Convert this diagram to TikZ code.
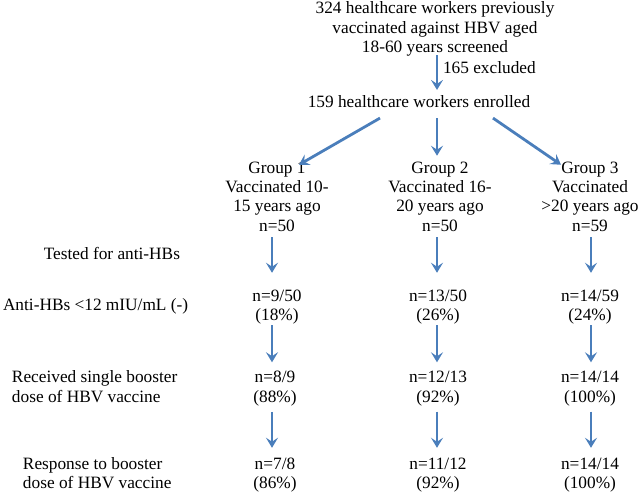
\documentclass[tikz,border=0pt]{standalone}
\usepackage{fontspec}
\setmainfont{Liberation Serif}
\usetikzlibrary{arrows.meta}
\definecolor{arrblue}{HTML}{4A7EBB}
\tikzset{
  txt/.style={inner sep=0pt, outer sep=0pt, align=center, font=\fontsize{17.3}{19.3}\selectfont},
  lbl/.style={txt, align=right, anchor=east},
  lbll/.style={txt, align=left, anchor=west},
  arr/.style={draw=arrblue, line width=2.8pt, -{Stealth[length=10pt,width=12pt,inset=4pt]}},
}
\begin{document}
\begin{tikzpicture}[x=1pt,y=-1pt]
\useasboundingbox (0,0) rectangle (640,493);
% column axes for the vertical arrows
\coordinate (col0) at (437,0);
\coordinate (col1) at (272,0);
\coordinate (col2) at (437,0);
\coordinate (col3) at (591,0);
% top
\node[txt] (top) at (435,29) {324 healthcare workers previously\\vaccinated against HBV aged\\18-60 years screened};
\node[txt, anchor=west] (excl) at (443,68) {165 excluded};
\node[txt] (enr) at (419,102) {159 healthcare workers enrolled};
% groups
\node[txt] (g1) at (277,196.5) {Group 1\\Vaccinated 10-\\15 years ago\\n=50};
\node[txt] (g2) at (440,196.5) {Group 2\\Vaccinated 16-\\20 years ago\\n=50};
\node[txt] (g3) at (590,196.5) {Group 3\\Vaccinated\\>20 years ago\\n=59};
% row labels
\node[lbl] (ltest) at (180,253) {Tested for anti-HBs};
\node[txt, anchor=west] (lanti) at (3,306) {Anti-HBs <12 mIU/mL (-)};
\node[lbll] (lrec) at (12,386.5) {Received single booster\\dose of HBV vaccine};
\node[lbll] (lresp) at (23,473) {Response to booster\\dose of HBV vaccine};
% rows
\node[txt] (a1) at (277,307) {n=9/50\\(18\%)};
\node[txt] (a2) at (438,307) {n=13/50\\(26\%)};
\node[txt] (a3) at (590,307) {n=14/59\\(24\%)};
\node[txt] (b1) at (275,388.5) {n=8/9\\(88\%)};
\node[txt] (b2) at (438,388.5) {n=12/13\\(92\%)};
\node[txt] (b3) at (590,388.5) {n=14/14\\(100\%)};
\node[txt] (c1) at (275,475) {n=7/8\\(86\%)};
\node[txt] (c2) at (438,475) {n=11/12\\(92\%)};
\node[txt] (c3) at (590,475) {n=14/14\\(100\%)};
% arrows
\draw[arr] ([yshift=1pt]top.south -| col0) -- ([yshift=6pt]enr.north -| col0);
\draw[arr] ([shift={(-39pt,-10pt)}]enr.south) -- ([shift={(22pt,-3pt)}]g1.north);
\draw[arr] ([yshift=-10pt]enr.south -| col0) -- ([yshift=6pt]g2.north -| col0);
\draw[arr] ([shift={(74pt,-10pt)}]enr.south) -- ([shift={(-29pt,-3pt)}]g3.north);
\foreach \g/\a/\c in {g1/a1/col1, g2/a2/col2, g3/a3/col3}{
  \draw[arr] ([yshift=-6pt]\g.south -| \c) -- ([yshift=17pt]\a.north -| \c);
}
\foreach \a/\b/\c in {a1/b1/col1, a2/b2/col2, a3/b3/col3}{
  \draw[arr] ([yshift=-1pt]\a.south -| \c) -- ([yshift=9pt]\b.north -| \c);
}
\foreach \b/\cc/\c in {b1/c1/col1, b2/c2/col2, b3/c3/col3}{
  \draw[arr] ([yshift=-6pt]\b.south -| \c) -- ([yshift=10pt]\cc.north -| \c);
}
\end{tikzpicture}
\end{document}
